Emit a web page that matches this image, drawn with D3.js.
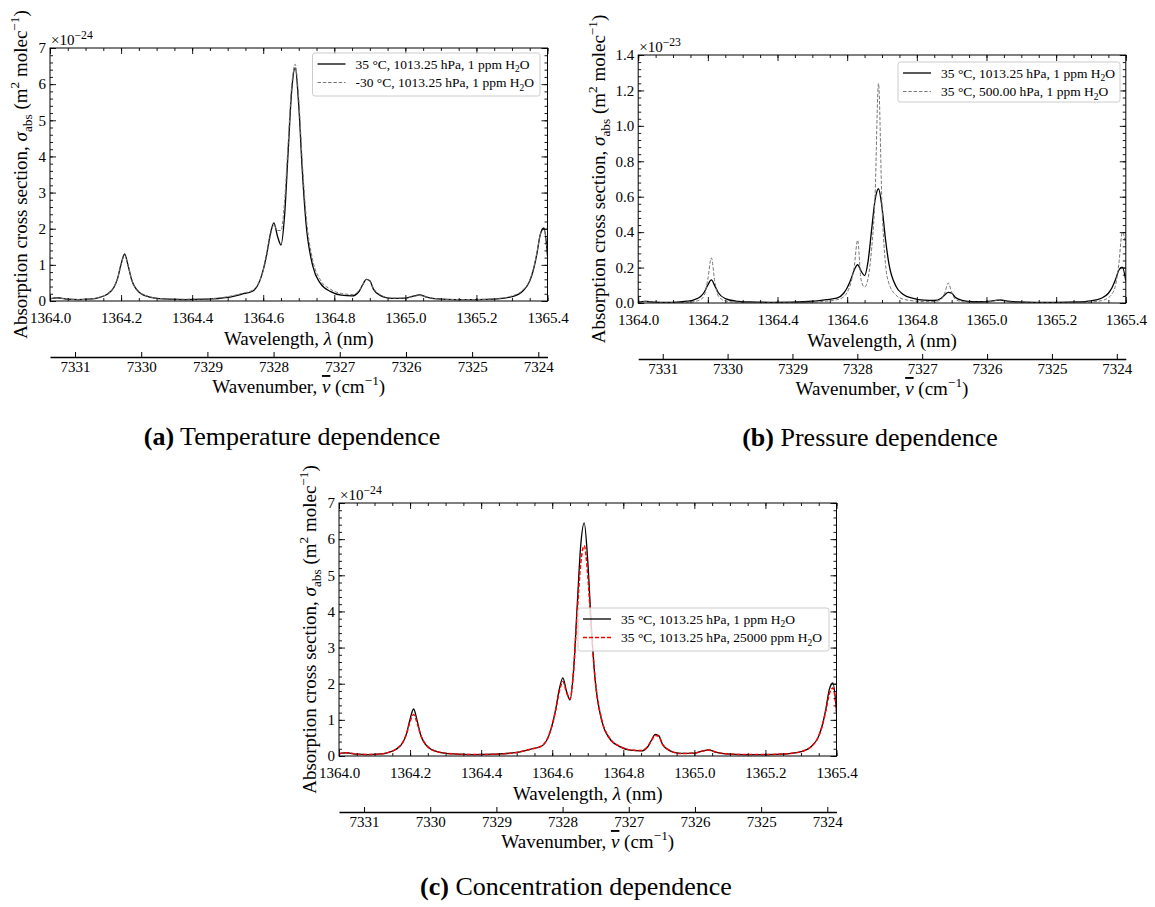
<!DOCTYPE html>
<meta charset="utf-8">
<title>absorption cross section</title>
<style>
body { margin: 0; background: #fff; }
svg, svg text, svg tspan { font-family: "Liberation Serif", "DejaVu Serif", serif; }
svg text { fill: #000; }
</style>
<svg width="1155" height="907" font-family="Liberation Serif, DejaVu Serif, serif"></svg>
<script src="https://cdn.jsdelivr.net/npm/d3@7"></script>
<script>

// wavelength grid (nm), denser around the lines
var lambda = [1364.00, 1364.01, 1364.02, 1364.03, 1364.05, 1364.08, 1364.11, 1364.14, 1364.16, 1364.18,
  1364.19, 1364.20, 1364.21, 1364.22, 1364.23, 1364.25, 1364.28, 1364.32, 1364.38, 1364.44,
  1364.50, 1364.54, 1364.57, 1364.59, 1364.60, 1364.61, 1364.62, 1364.63, 1364.64, 1364.65,
  1364.66, 1364.67, 1364.68, 1364.69, 1364.70, 1364.71, 1364.72, 1364.74, 1364.76, 1364.79,
  1364.82, 1364.85, 1364.87, 1364.88, 1364.89, 1364.90, 1364.91, 1364.93, 1364.96, 1365.00,
  1365.02, 1365.04, 1365.06, 1365.09, 1365.14, 1365.20, 1365.26, 1365.30, 1365.33, 1365.35,
  1365.36, 1365.37, 1365.38, 1365.39, 1365.40];

// 35 °C, 1013.25 hPa, 1 ppm H2O  (x 1e-24 m2/molec)
var sigmaBase = [0.06, 0.08, 0.09, 0.08, 0.05, 0.04, 0.05, 0.10, 0.18, 0.38,
  0.62, 1.02, 1.30, 0.97, 0.58, 0.25, 0.11, 0.06, 0.04, 0.05,
  0.10, 0.19, 0.27, 0.55, 0.86, 1.30, 1.85, 2.16, 1.80, 1.55,
  2.35, 4.10, 5.80, 6.45, 5.40, 3.60, 2.20, 0.95, 0.50, 0.26,
  0.16, 0.14, 0.27, 0.45, 0.60, 0.56, 0.33, 0.15, 0.07, 0.08,
  0.13, 0.17, 0.11, 0.06, 0.04, 0.04, 0.06, 0.12, 0.27, 0.55,
  0.85, 1.30, 1.85, 2.02, 1.25];

// -30 °C, 1013.25 hPa, 1 ppm H2O  (x 1e-24)
var sigmaCold = [0.06, 0.08, 0.09, 0.08, 0.05, 0.04, 0.05, 0.11, 0.19, 0.39,
  0.62, 1.00, 1.27, 0.97, 0.59, 0.26, 0.12, 0.06, 0.05, 0.06,
  0.12, 0.21, 0.30, 0.55, 0.84, 1.27, 1.80, 2.10, 1.95, 1.95,
  2.75, 4.35, 5.95, 6.55, 5.60, 3.85, 2.45, 1.10, 0.60, 0.32,
  0.21, 0.18, 0.29, 0.45, 0.60, 0.55, 0.35, 0.17, 0.08, 0.08,
  0.12, 0.15, 0.11, 0.06, 0.04, 0.04, 0.07, 0.14, 0.30, 0.58,
  0.88, 1.32, 1.85, 1.98, 1.30];

// 35 °C, 500.00 hPa, 1 ppm H2O  (x 1e-23)
var sigmaLowP = [0.004, 0.006, 0.010, 0.006, 0.003, 0.002, 0.002, 0.004, 0.008, 0.020,
  0.045, 0.135, 0.255, 0.120, 0.040, 0.012, 0.005, 0.003, 0.002, 0.003,
  0.005, 0.010, 0.018, 0.035, 0.060, 0.110, 0.200, 0.355, 0.130, 0.090,
  0.140, 0.300, 0.600, 1.240, 0.550, 0.220, 0.110, 0.045, 0.022, 0.012,
  0.008, 0.008, 0.020, 0.055, 0.113, 0.060, 0.022, 0.008, 0.004, 0.005,
  0.010, 0.018, 0.007, 0.003, 0.002, 0.002, 0.003, 0.006, 0.013, 0.030,
  0.050, 0.095, 0.220, 0.400, 0.330];

// 35 °C, 1013.25 hPa, 25000 ppm H2O  (x 1e-24)
var sigmaWet = [0.06, 0.08, 0.09, 0.08, 0.05, 0.04, 0.05, 0.10, 0.19, 0.39,
  0.61, 0.95, 1.15, 0.91, 0.58, 0.26, 0.11, 0.06, 0.04, 0.05,
  0.10, 0.19, 0.28, 0.56, 0.86, 1.28, 1.78, 2.06, 1.77, 1.58,
  2.35, 3.90, 5.30, 5.82, 5.00, 3.50, 2.20, 0.98, 0.52, 0.27,
  0.17, 0.15, 0.28, 0.44, 0.57, 0.54, 0.33, 0.16, 0.07, 0.08,
  0.13, 0.16, 0.11, 0.06, 0.04, 0.04, 0.06, 0.12, 0.27, 0.55,
  0.84, 1.25, 1.72, 1.88, 1.20];

var xTicks = [1364.0, 1364.2, 1364.4, 1364.6, 1364.8, 1365.0, 1365.2, 1365.4];
var wnTicks = [7331, 7330, 7329, 7328, 7327, 7326, 7325, 7324];

var labelBase = "35 °C, 1013.25 hPa, 1 ppm H";
var labelCold = "-30 °C, 1013.25 hPa, 1 ppm H";
var labelLowP = "35 °C, 500.00 hPa, 1 ppm H";
var labelWet = "35 °C, 1013.25 hPa, 25000 ppm H";

var captions = [["(a)", " Temperature dependence"], ["(b)", " Pressure dependence"], ["(c)", " Concentration dependence"]];

var FONT = "Liberation Serif, DejaVu Serif, serif";
var TITLE = 19;

var solid = {color: "#000", width: 1.3, dash: null};
var grayDash = {color: "#777", width: 1, dash: "3.5,1.8"};
var redDash = {color: "#f00", width: 1.5, dash: "4,2"};

var panels = [
  {left: 50, right: 547.5, top: 48, bottom: 301, yMax: 7, yStep: 1, yMinor: 0.2, fmt: d3.format("d"), exp: "−24",
   yTitleX: 27, capX: 292, capY: 445,
   series: [{v: sigmaBase, s: solid, label: labelBase}, {v: sigmaCold, s: grayDash, label: labelCold}],
   legend: {x: 312.5, y: 53, w: 227.5, h: 43}, cap: captions[0]},
  {left: 638.2, right: 1125.8, top: 55, bottom: 303, yMax: 1.4, yStep: 0.2, yMinor: 0.04, fmt: d3.format(".1f"), exp: "−23",
   yTitleX: 605, capX: 870, capY: 446,
   series: [{v: sigmaBase.map(function (d) { return d / 10; }), s: solid, label: labelBase}, {v: sigmaLowP, s: grayDash, label: labelLowP}],
   legend: {x: 898, y: 62, w: 222, h: 40}, cap: captions[1]},
  {left: 339, right: 836.5, top: 503, bottom: 756, yMax: 7, yStep: 1, yMinor: 0.2, fmt: d3.format("d"), exp: "−24",
   yTitleX: 316, capX: 576, capY: 895,
   series: [{v: sigmaBase, s: solid, label: labelBase}, {v: sigmaWet, s: redDash, label: labelWet}],
   legend: {x: 578, y: 608, w: 251, h: 43}, cap: captions[2]}
];

var svg = d3.select("svg");

function rich(text, parts, fs, ratio) {
  ratio = ratio || 0.7;
  text.style("font-family", FONT);
  var shift = 0;
  parts.forEach(function (p) {
    var kind = p[1] || "";
    var want = kind === "sup" ? -0.42 * fs : kind === "sub" ? 0.28 * fs : 0;
    var t = text.append("tspan").attr("dy", want - shift).text(p[0]);
    shift = want;
    if (kind === "sup" || kind === "sub") t.attr("font-size", fs * ratio);
    if (kind === "it" || kind === "bar") t.attr("font-style", "italic");
    if (kind === "bar") t.style("text-decoration", "overline");
    if (kind === "b") t.attr("font-weight", "bold");
  });
}

function drawPanel(p, pi) {
  var g = svg.append("g");
  var x = d3.scaleLinear().domain([1364.0, 1365.4]).range([p.left, p.right]);
  var y = d3.scaleLinear().domain([0, p.yMax]).range([p.bottom, p.top]);

  var minorX = d3.range(0, 29).map(function (i) { return 1364 + i * 0.05; });
  var majorY = d3.range(0, Math.round(p.yMax / p.yStep) + 1).map(function (i) { return i * p.yStep; });
  var minorY = d3.range(0, Math.round(p.yMax / p.yMinor) + 1).map(function (i) { return i * p.yMinor; });

  function ax(axis, tr, vals, size, fmt, pad) {
    var a = g.append("g").attr("transform", tr)
      .call(axis.tickValues(vals).tickSizeInner(-size).tickSizeOuter(0).tickPadding(pad).tickFormat(fmt));
    a.select(".domain").remove();
    a.attr("font-family", FONT).attr("font-size", 15);
    a.selectAll("line").attr("stroke", "#000").attr("stroke-width", 0.9);
    a.selectAll("text").style("font-family", FONT).attr("font-size", 15);
    return a;
  }

  // curves
  var clipId = "clip" + pi;
  g.append("clipPath").attr("id", clipId).append("rect")
    .attr("x", p.left).attr("y", p.top).attr("width", p.right - p.left).attr("height", p.bottom - p.top);

  var line = d3.line()
    .x(function (d, i) { return x(lambda[i]); })
    .y(function (d) { return y(d); })
    .curve(d3.curveMonotoneX);

  p.series.forEach(function (s) {
    g.append("path")
      .attr("clip-path", "url(#" + clipId + ")")
      .attr("d", line(s.v))
      .attr("fill", "none")
      .attr("stroke", s.s.color)
      .attr("stroke-width", s.s.width)
      .attr("stroke-dasharray", s.s.dash);
  });

  // ticks on all four sides, pointing in
  ax(d3.axisBottom(x), "translate(0," + p.bottom + ")", minorX, 3, "", 0);
  ax(d3.axisBottom(x), "translate(0," + p.bottom + ")", xTicks, 6, d3.format(".1f"), 11);
  ax(d3.axisTop(x), "translate(0," + p.top + ")", minorX, 3, "", 0);
  ax(d3.axisTop(x), "translate(0," + p.top + ")", xTicks, 6, "", 0);
  ax(d3.axisLeft(y), "translate(" + p.left + ",0)", minorY, 3, "", 0);
  ax(d3.axisLeft(y), "translate(" + p.left + ",0)", majorY, 6, p.fmt, 4);
  ax(d3.axisRight(y), "translate(" + p.right + ",0)", minorY, 3, "", 0);
  ax(d3.axisRight(y), "translate(" + p.right + ",0)", majorY, 6, "", 0);

  g.append("rect")
    .attr("x", p.left).attr("y", p.top)
    .attr("width", p.right - p.left).attr("height", p.bottom - p.top)
    .attr("fill", "none").attr("stroke", "#000").attr("stroke-width", 1);

  // offset text
  rich(g.append("text").attr("x", p.left + 1).attr("y", p.top - 3).attr("font-size", 15),
    [["×10"], [p.exp, "sup"]], 15, 0.78);

  // axis titles
  var cx = (p.left + p.right) / 2;
  rich(g.append("text").attr("x", cx).attr("y", p.bottom + 44).attr("text-anchor", "middle").attr("font-size", TITLE),
    [["Wavelength, "], ["λ", "it"], [" (nm)"]], TITLE);

  rich(g.append("text")
      .attr("transform", "translate(" + p.yTitleX + "," + (p.top + p.bottom) / 2 + ") rotate(-90)")
      .attr("text-anchor", "middle").attr("font-size", TITLE),
    [["Absorption cross section, "], ["σ", "it"], ["abs", "sub"], [" (m"], ["2", "sup"], [" molec"], ["−1", "sup"], [")"]], TITLE);

  // secondary wavenumber axis
  var secY = p.bottom + 56;
  var wn = d3.scaleLinear().domain([1e7 / 1364.0, 1e7 / 1365.4]).range([p.left, p.right]);
  var sa = g.append("g").attr("transform", "translate(0," + secY + ")")
    .call(d3.axisBottom(wn).tickValues(wnTicks).tickSizeInner(-5).tickSizeOuter(0).tickPadding(4).tickFormat(d3.format("d")));
  sa.attr("font-family", FONT).attr("font-size", 15);
  sa.select(".domain").attr("stroke", "#000").attr("stroke-width", 1.4);
  sa.selectAll("line").attr("stroke", "#000").attr("stroke-width", 1);
  sa.selectAll("text").style("font-family", FONT).attr("font-size", 15);

  rich(g.append("text").attr("x", cx).attr("y", secY + 36).attr("text-anchor", "middle").attr("font-size", TITLE),
    [["Wavenumber, "], ["ν", "bar"], [" (cm"], ["−1", "sup"], [")"]], TITLE);

  // legend
  var L = p.legend;
  var lg = g.append("g").attr("transform", "translate(" + L.x + "," + L.y + ")");
  lg.append("rect").attr("width", L.w).attr("height", L.h).attr("rx", 2.5)
    .attr("fill", "#fff").attr("fill-opacity", 0.8).attr("stroke", "#ccc").attr("stroke-width", 1);
  p.series.forEach(function (s, i) {
    var ry = 11 + i * 18.5;
    lg.append("line").attr("x1", 5).attr("x2", 33).attr("y1", ry).attr("y2", ry)
      .attr("stroke", s.s.color).attr("stroke-width", s.s.width).attr("stroke-dasharray", s.s.dash);
    rich(lg.append("text").attr("x", 43).attr("y", ry + 4.5).attr("font-size", 13.5),
      [[s.label], ["2", "sub"], ["O"]], 13.5);
  });

  // caption
  rich(g.append("text").attr("x", p.capX).attr("y", p.capY).attr("text-anchor", "middle").attr("font-size", 26),
    [[p.cap[0], "b"], [p.cap[1]]], 26);
}

panels.forEach(drawPanel);

</script>
